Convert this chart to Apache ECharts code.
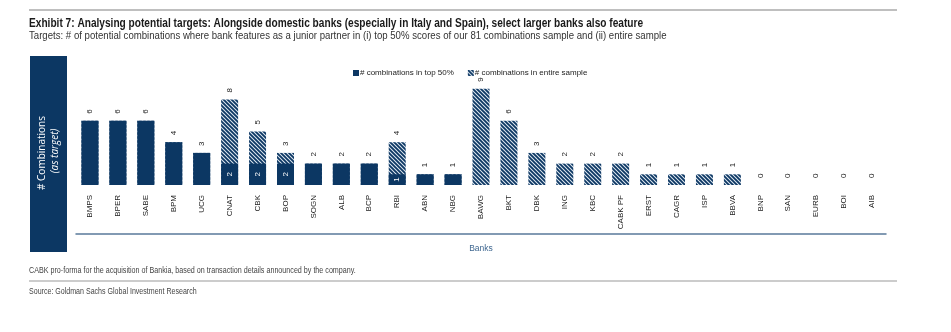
<!DOCTYPE html>
<html>
<head>
<meta charset="utf-8">
<script src="https://cdn.jsdelivr.net/npm/echarts@6/dist/echarts.min.js"></script>
<style>html,body{margin:0;padding:0;background:#fff;}#c{width:951px;height:332px;}</style>
</head>
<body>
<div id="c"></div>
<script>
var categories = ['BMPS','BPER','SABE','BPM','UCG','CNAT','CBK','BOP','SOGN','ALB','BCP','RBI','ABN','NBG','BAWG','BKT','DBK','ING','KBC','CABK PF','ERST','CAGR','ISP','BBVA','BNP','SAN','EURB','BOI','AIB'];
var top50 = [6,6,6,4,3,2,2,2,2,2,2,1,1,1,0,0,0,0,0,0,0,0,0,0,0,0,0,0,0];
var entire = [6,6,6,4,3,8,5,3,2,2,2,4,1,1,9,6,3,2,2,2,1,1,1,1,0,0,0,0,0];
var seriesNames = ['# combinations in top 50%', '# combinations in entire sample'];

var NAVY = '#0c3763';
var SANS = '"Liberation Sans",Arial,sans-serif';

function hatch() {
  var c = document.createElement('canvas');
  c.width = 4; c.height = 4;
  var g = c.getContext('2d');
  g.fillStyle = '#dfe7f0';
  g.fillRect(0, 0, 4, 4);
  g.strokeStyle = NAVY;
  g.lineWidth = 1.8;
  g.beginPath();
  g.moveTo(-1, -1); g.lineTo(5, 5);
  g.moveTo(-1, 3); g.lineTo(1, 5);
  g.moveTo(3, -1); g.lineTo(5, 1);
  g.stroke();
  return c;
}
var pattern = { image: hatch(), repeat: 'repeat' };

var chart = echarts.init(document.getElementById('c'), null, { renderer: 'canvas' });

var topData = top50.map(function (v, i) {
  var showInner = v > 0 && v < entire[i];
  return { value: v, label: { show: showInner } };
});

chart.setOption({
  animation: false,
  legend: {
    left: 348, top: 64,
    itemWidth: 6, itemHeight: 6, itemGap: 14,
    icon: 'rect',
    data: seriesNames,
    textStyle: { fontFamily: SANS, fontSize: 8, color: '#222', padding: [0, 0, 0, -4] }
  },
  grid: { left: 76, right: 65, top: 78, bottom: 147 },
  xAxis: [{
    type: 'category',
    data: categories,
    axisLine: { show: false },
    axisTick: { show: false },
    axisLabel: { rotate: 90, margin: 10, fontSize: 8, color: '#222', fontFamily: SANS, interval: 0 }
  }, {
    type: 'category',
    data: categories,
    position: 'bottom',
    offset: 49,
    axisLine: { show: true, onZero: false, lineStyle: { color: '#5a7a9a', width: 1.5 } },
    axisTick: { show: false },
    axisLabel: { show: false },
    name: 'Banks',
    nameLocation: 'middle',
    nameGap: 10,
    nameTextStyle: { fontSize: 8.5, color: '#3f6790', fontFamily: SANS }
  }],
  yAxis: { type: 'value', min: 0, max: 10, show: false },
  series: [{
    name: seriesNames[1],
    type: 'bar',
    data: entire,
    barWidth: 17,
    itemStyle: { color: pattern },
    label: {
      show: true, position: 'top', distance: 7, rotate: 90,
      align: 'left', verticalAlign: 'middle',
      fontSize: 8, color: '#222', fontFamily: SANS
    },
    z: 2
  }, {
    name: seriesNames[0],
    type: 'bar',
    data: topData,
    barWidth: 17,
    barGap: '-100%',
    itemStyle: { color: NAVY },
    label: {
      position: 'inside', rotate: 90,
      fontSize: 8, color: '#fff', fontFamily: SANS
    },
    z: 3
  }],
  graphic: [
    { type: 'line', shape: { x1: 29, y1: 10, x2: 897, y2: 10 }, style: { stroke: '#aaa', lineWidth: 1.5 } },
    { type: 'text', x: 29, y: 24, scaleX: 0.844,
      style: { text: 'Exhibit 7: Analysing potential targets: Alongside domestic banks (especially in Italy and Spain), select larger banks also feature', fill: '#1a1a1a', font: 'bold 12px ' + SANS, verticalAlign: 'middle' } },
    { type: 'text', x: 29, y: 36, scaleX: 0.836,
      style: { text: 'Targets: # of potential combinations where bank features as a junior partner in (i) top 50% scores of our 81 combinations sample and (ii) entire sample', fill: '#333', font: '11.5px ' + SANS, verticalAlign: 'middle' } },
    { type: 'rect', shape: { x: 30, y: 56, width: 37, height: 196 }, style: { fill: NAVY } },
    { type: 'text', x: 42, y: 153, rotation: Math.PI / 2,
      style: { text: '# Combinations', fill: '#fff', font: '10px "Open Sans", sans-serif', align: 'center', verticalAlign: 'middle' } },
    { type: 'text', x: 55, y: 151, rotation: Math.PI / 2,
      style: { text: '(as target)', fill: '#fff', font: 'italic 10px "Open Sans", sans-serif', align: 'center', verticalAlign: 'middle' } },
    { type: 'text', x: 29, y: 271, scaleX: 0.795,
      style: { text: 'CABK pro-forma for the acquisition of Bankia, based on transaction details announced by the company.', fill: '#444', font: '9px ' + SANS, verticalAlign: 'middle' } },
    { type: 'line', shape: { x1: 29, y1: 281, x2: 897, y2: 281 }, style: { stroke: '#bbb', lineWidth: 1.5 } },
    { type: 'text', x: 29, y: 292, scaleX: 0.785,
      style: { text: 'Source: Goldman Sachs Global Investment Research', fill: '#444', font: '9px ' + SANS, verticalAlign: 'middle' } }
  ]
});
</script>
</body>
</html>
